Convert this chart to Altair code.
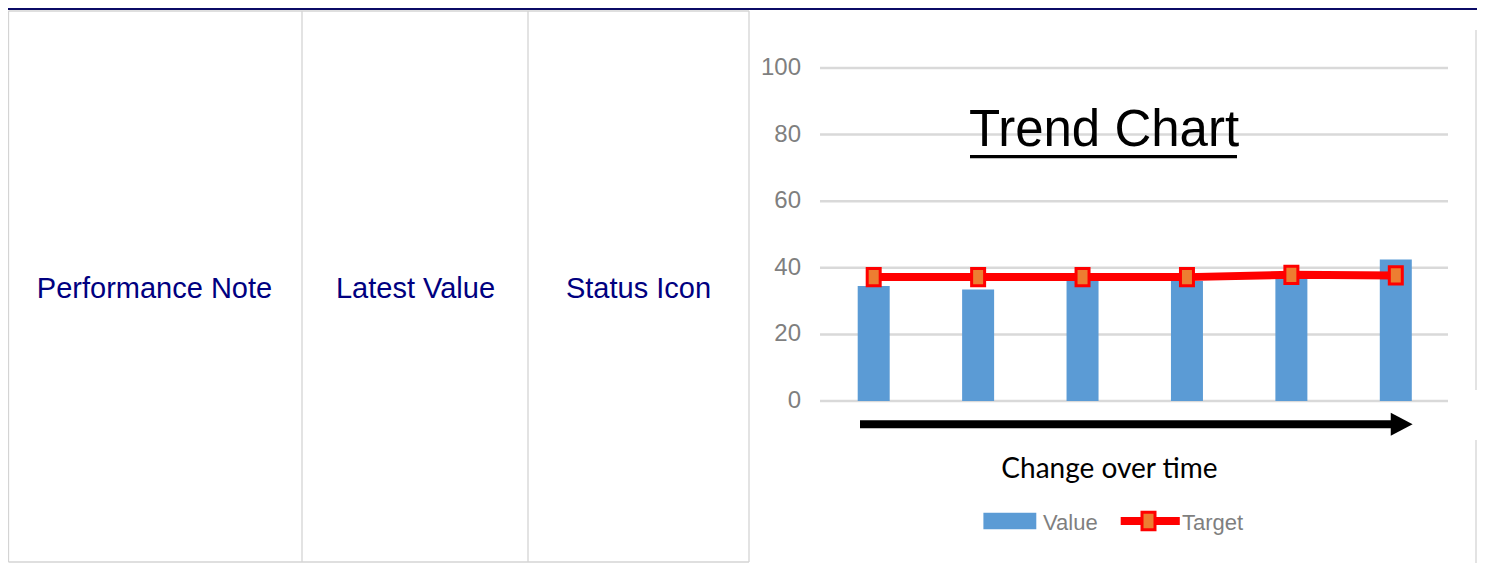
import altair as alt
import pandas as pd

# ---------------- data ----------------
periods = ["P1", "P2", "P3", "P4", "P5", "P6"]
values = [34.5, 33.5, 36.5, 36.0, 37.0, 42.5]
targets = [37.2, 37.2, 37.2, 37.2, 37.9, 37.7]
y_ticks = [0, 20, 40, 60, 80, 100]
cell_labels = ["Performance Note", "Latest Value", "Status Icon"]
chart_title = "Trend Chart"
x_caption = "Change over time"
legend_labels = ["Value", "Target"]

# ---------------- layout / style ----------------
W, H = 1469, 555

NARROW = "Liberation Sans Narrow, Arial Narrow, Liberation Sans, sans-serif"
ARIAL = "Liberation Sans, Arial, sans-serif"
CAL = "Lato, Carlito, Calibri, sans-serif"

BLUE = "#5B9BD5"
RED = "#FF0000"
ORANGE = "#ED7D31"
GRID = "#d9d9d9"
LABEL = "#7f7f7f"
NAVY_TXT = "#000080"
NAVY_LINE = "#0b0b66"
BORDER = "#d4d4d4"

RECT = "M-0.75,-1L0.75,-1L0.75,1L-0.75,1Z"
HEAD = "M-0.95,-1L0.95,0L-0.95,1Z"

series = pd.DataFrame({"period": periods, "value": values, "target": targets})
ticks = pd.DataFrame({"tick": y_ticks})
one = pd.DataFrame({"k": [0]})

y_scale = alt.Scale(domain=[0, 100], range=[393, 60], nice=False, zero=True)
x_scale = alt.Scale(type="point", domain=periods, range=[865.7, 1387.8], padding=0)

layers = []


def hrule(x1, x2, y, color, sw):
    return alt.Chart(one).mark_rule(color=color, strokeWidth=sw).encode(
        x=alt.value(x1), x2=alt.value(x2), y=alt.value(y)
    )


def vrule(x, y1, y2, color, sw):
    return alt.Chart(one).mark_rule(color=color, strokeWidth=sw).encode(
        x=alt.value(x), y=alt.value(y1), y2=alt.value(y2)
    )


# top navy line
layers.append(hrule(0, W, 1, NAVY_LINE, 2))

# table borders (three text cells)
table_top, table_bot = 3, 554
col_edges = [0.5, 294, 520, 741]
layers.append(hrule(0.5, 741, table_top, BORDER, 1.3))
layers.append(hrule(0.5, 741, table_bot, BORDER, 1.3))
for cx in col_edges:
    layers.append(vrule(cx, table_top, table_bot, BORDER, 1.3))

# cell texts
cell_centers = [146.5, 407.5, 630.5]
for lab, cx in zip(cell_labels, cell_centers):
    layers.append(
        alt.Chart(one)
        .mark_text(text=lab, font=ARIAL, fontSize=29, color=NAVY_TXT,
                   align="center", baseline="alphabetic")
        .encode(x=alt.value(cx), y=alt.value(290))
    )

# right border of chart image
layers.append(vrule(1468, 22, 382, "#d0d0d0", 1.2))
layers.append(vrule(1468, 432, 555, "#d0d0d0", 1.2))

# gridlines
layers.append(
    alt.Chart(ticks)
    .mark_rule(color=GRID, strokeWidth=2.5)
    .encode(y=alt.Y("tick:Q", scale=y_scale, axis=None),
            x=alt.value(812), x2=alt.value(1440))
)

# y tick labels
layers.append(
    alt.Chart(ticks)
    .mark_text(align="right", baseline="middle", font=NARROW, fontSize=24, color=LABEL)
    .encode(y=alt.Y("tick:Q", scale=y_scale, axis=None),
            x=alt.value(793), text=alt.Text("tick:Q"))
)

# bars
layers.append(
    alt.Chart(series)
    .mark_bar(size=32, color=BLUE)
    .encode(x=alt.X("period:N", scale=x_scale, axis=None),
            y=alt.Y("value:Q", scale=y_scale, axis=None, stack=None))
)

# target line
layers.append(
    alt.Chart(series)
    .mark_line(color=RED, strokeWidth=8)
    .encode(x=alt.X("period:N", scale=x_scale, axis=None),
            y=alt.Y("target:Q", scale=y_scale, axis=None))
)

# target markers
layers.append(
    alt.Chart(series)
    .mark_point(shape=RECT, size=300, filled=True, fill=ORANGE, stroke=RED,
                strokeWidth=3, opacity=1)
    .encode(x=alt.X("period:N", scale=x_scale, axis=None),
            y=alt.Y("target:Q", scale=y_scale, axis=None))
)

# title + underline
layers.append(
    alt.Chart(one)
    .mark_text(text=chart_title, font=NARROW, fontSize=51, color="black",
               align="center", baseline="alphabetic")
    .encode(x=alt.value(1096), y=alt.value(138))
)
layers.append(hrule(962, 1229, 148.7, "black", 3.3))

# arrow
layers.append(hrule(852, 1384, 416.3, "black", 8))
layers.append(
    alt.Chart(one)
    .mark_point(shape=HEAD, size=529, filled=True, color="black", opacity=1)
    .encode(x=alt.value(1393.7), y=alt.value(416.3))
)

# caption
layers.append(
    alt.Chart(one)
    .mark_text(text=x_caption, font=CAL, fontSize=28, color="black",
               align="center", baseline="alphabetic")
    .encode(x=alt.value(1101.5), y=alt.value(469.7))
)

# legend
layers.append(
    alt.Chart(one)
    .mark_rect(color=BLUE)
    .encode(x=alt.value(975.4), x2=alt.value(1028.3),
            y=alt.value(504.7), y2=alt.value(521.3))
)
layers.append(
    alt.Chart(one)
    .mark_text(text=legend_labels[0], font=NARROW, fontSize=22, color=LABEL,
               align="left", baseline="alphabetic")
    .encode(x=alt.value(1035), y=alt.value(521.5))
)
layers.append(hrule(1112.7, 1171.8, 513, RED, 8))
layers.append(
    alt.Chart(one)
    .mark_point(shape=RECT, size=300, filled=True, fill=ORANGE, stroke=RED,
                strokeWidth=3, opacity=1)
    .encode(x=alt.value(1140.5), y=alt.value(513))
)
layers.append(
    alt.Chart(one)
    .mark_text(text=legend_labels[1], font=NARROW, fontSize=22, color=LABEL,
               align="left", baseline="alphabetic")
    .encode(x=alt.value(1174), y=alt.value(521.5))
)

chart = (
    alt.layer(*layers)
    .properties(width=W, height=H, padding=0,
                autosize=alt.AutoSizeParams(type="none"))
    .configure_view(stroke=None)
)

chart.save("out.html", embed_options={"renderer": "svg", "actions": False})
